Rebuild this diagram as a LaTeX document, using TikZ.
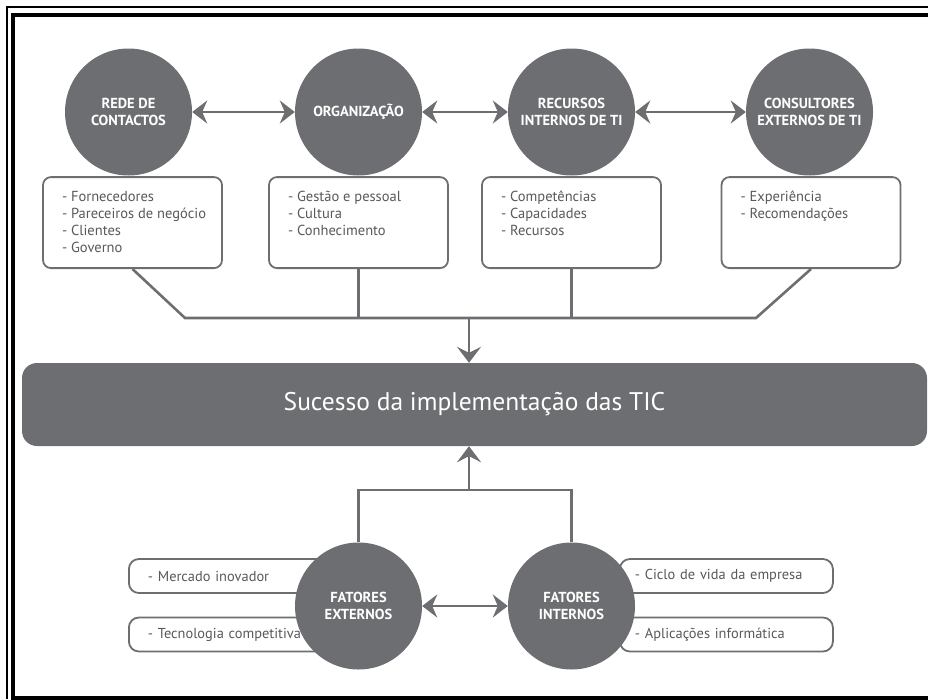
\documentclass[tikz,border=0pt]{standalone}
\usepackage{fontspec}
\setmainfont{PT Sans}
\usetikzlibrary{arrows.meta,positioning}
\definecolor{cinza}{RGB}{109,110,113}
\definecolor{texto}{RGB}{88,89,91}
\newcommand{\itens}[1]{\parbox[t][66pt][t]{141pt}{\begin{tabular}[t]{@{}l@{}}#1\end{tabular}}}

\begin{document}
\begin{tikzpicture}[x=1pt, y=-1pt,
        Fator/.style={circle, fill=cinza, text=white, minimum size=127pt, inner sep=0pt, align=center, font=\fontsize{14.5}{17}\selectfont\bfseries},
        Lista/.style={rectangle, draw=cinza, fill=white, line width=1.8pt, rounded corners=8pt, text=texto, font=\fontsize{14.5}{17}\selectfont, minimum width=179pt, minimum height=91pt, inner xsep=19pt, inner ysep=12pt},
        Item/.style={rectangle, draw=cinza, fill=white, line width=1.8pt, rounded corners=10pt, text=texto, font=\fontsize{14.4}{18}\selectfont, minimum height=34pt, anchor=west, align=left},
        Liga/.style={draw=cinza, line width=2.6pt},
        Seta/.style={Liga, -{Stealth[length=16pt, width=24pt, inset=6pt]}},
        SetaDupla/.style={Liga, {Stealth[length=15pt, width=23pt, inset=5pt]}-{Stealth[length=15pt, width=23pt, inset=5pt]}},
    ]
        \useasboundingbox (0,0) rectangle (928,699);
        % frame
        \draw[line width=1.6pt] (6.8,699) -- (6.8,6.8) -- (928,6.8);
        \draw[line width=4pt] (13,699) -- (13,14.7) -- (928,14.7);
        \draw[line width=4pt] (11,698) -- (928,698);

        %Nodes
        \node[Fator] (Rede) at (128.5,112) {REDE DE\\CONTACTOS};
        \node[Fator] (Org) at (358.5,112) {ORGANIZAÇÃO};
        \node[Fator] (RecInt) at (571.5,112) {RECURSOS\\INTERNOS DE TI};
        \node[Fator] (ConsExt) at (809.5,112) {CONSULTORES\\EXTERNOS DE TI};
        \node[Lista] (RedeBox) [below=0.5pt of Rede, xshift=4pt] {\itens{- Fornecedores\\- Pareceiros de negócio\\- Clientes\\- Governo}};
        \node[Lista] (OrgBox) [below=0.5pt of Org] {\itens{- Gestão e pessoal\\- Cultura\\- Conhecimento}};
        \node[Lista] (RecIntBox) [below=0.5pt of RecInt] {\itens{- Competências\\- Capacidades\\- Recursos}};
        \node[Lista] (ConsExtBox) [below=0.5pt of ConsExt, xshift=1.5pt] {\itens{- Experiência\\- Recomendações}};

        \node[rectangle, fill=cinza, rounded corners=15pt, minimum width=905pt, minimum height=83pt, text=white, font=\fontsize{25.5}{30}\selectfont] (Sucesso) at (474.5,404.5) {Sucesso da implementação das TIC};

        \node[Item, inner xsep=19pt, text width=175pt] (Mercado) at (128,576) {\mbox{- Mercado inovador}};
        \node[Item, inner xsep=19pt, text width=175pt] (Tecno) at (128,634.5) {\mbox{- Tecnologia competitiva}};
        \node[Item, inner xsep=15pt, text width=183pt] (Ciclo) at (619,576) {\mbox{- Ciclo de vida da empresa}};
        \node[Item, inner xsep=15pt, text width=183pt] (Aplic) at (619,634.5) {\mbox{- Aplicações informática}};
        \node[Fator] (FatExt) at (358.5,606) {FATORES\\EXTERNOS};
        \node[Fator] (FatInt) at (571.5,606) {FATORES\\INTERNOS};

        \coordinate (JoinL) at (185,318);
        \coordinate (JoinR) at (756,318);
        \coordinate (JoinTop) at (469,318);
        \coordinate (JoinBot) at (469,490);

        %Lines
        \draw[SetaDupla] (Rede) -- (Org);
        \draw[SetaDupla] (Org) -- (RecInt);
        \draw[SetaDupla] (RecInt) -- (ConsExt);
        \draw[Liga] (RedeBox.south) -- (JoinL) -- (JoinR) -- (ConsExtBox.south);
        \draw[Liga] (OrgBox.south) -- (OrgBox.south |- JoinL);
        \draw[Liga] (RecIntBox.south) -- (RecIntBox.south |- JoinL);
        \draw[Seta] (JoinTop) -- (JoinTop |- Sucesso.north);
        \draw[Liga] (FatExt.north) |- (FatInt.north |- JoinBot) -- (FatInt.north);
        \draw[Seta] (JoinBot) -- (JoinBot |- Sucesso.south);
        \draw[SetaDupla] (FatExt) -- (FatInt);
    \end{tikzpicture}
\end{document}
